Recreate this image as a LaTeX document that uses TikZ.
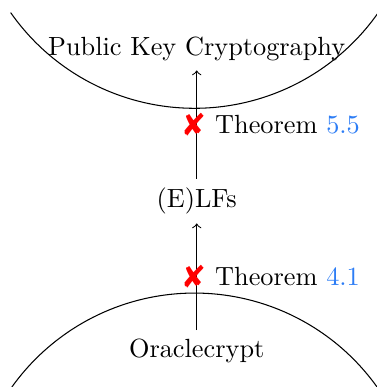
\documentclass[tikz,border=0pt]{standalone}
\usepackage{pifont}
\usetikzlibrary{positioning}
\definecolor{refblue}{RGB}{45,125,245}

\begin{document}
\begin{tikzpicture}[
    txt/.style={align=center},
    nogo/.style={text=red, inner sep=0pt, font=\large, xshift=-1pt},
    thmlabel/.style={anchor=west, xshift=3.5pt},
    world/.style={line width=0.4pt}
]

% fixed frame
\useasboundingbox (-2.63, -0.476) rectangle (2.397, 4.698);

% Worlds
\coordinate (top_c) at (-0.03, 6.25);
\coordinate (bot_c) at (-0.03, -2.22);
\draw[world] ([shift={(215:3)}]top_c) arc[start angle=215, end angle=325, radius=3];
\draw[world] ([shift={(35.5:3)}]bot_c) arc[start angle=35.5, end angle=144.5, radius=3];

% Primitives
\node[txt] (pkc) at (0,4.04) {Public Key Cryptography};
\node[txt] (elfs) at (0,2.01) {(E)LFs};
\node[txt] (oracle) at (0,0) {Oraclecrypt};

% Separations
\draw[->] (oracle) -- (elfs) node[midway, nogo] (no_a) {\ding{56}} node[midway, thmlabel] (thm_a) {Theorem \textcolor{refblue}{4.1}};
\draw[->] (elfs) -- (pkc) node[midway, nogo] (no_b) {\ding{56}} node[midway, thmlabel] (thm_b) {Theorem \textcolor{refblue}{5.5}};

\end{tikzpicture}
\end{document}
